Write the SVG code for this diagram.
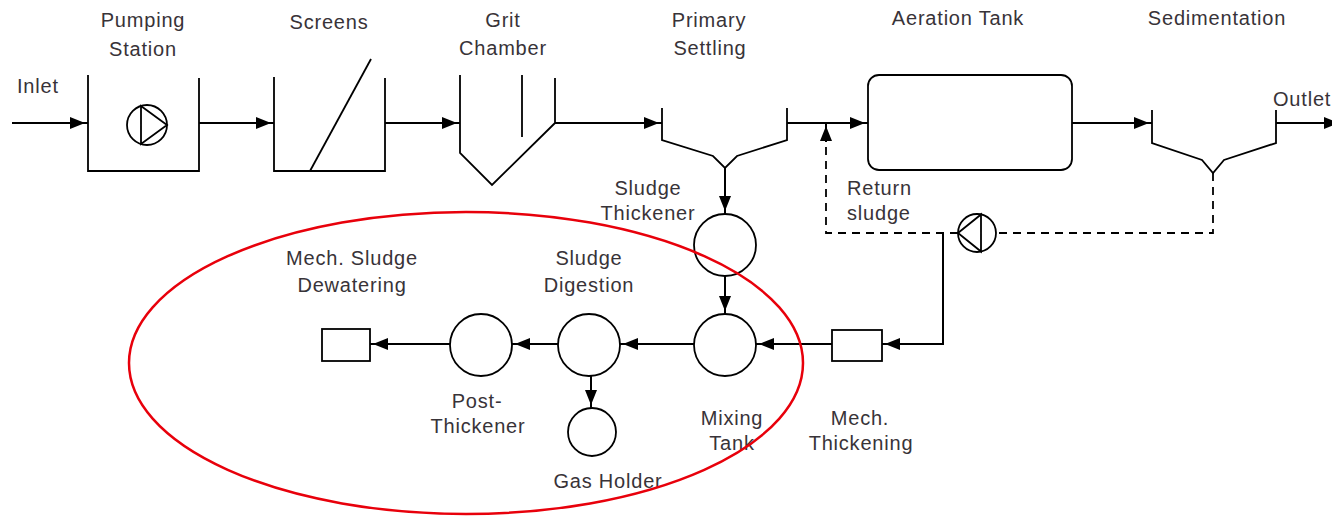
<svg xmlns="http://www.w3.org/2000/svg" width="1332" height="518" viewBox="0 0 1332 518">
<defs>
<style>
.ln{fill:none;stroke:#000;stroke-width:2}
.sh{fill:none;stroke:#000;stroke-width:1.8}
.ds{fill:none;stroke:#000;stroke-width:1.8;stroke-dasharray:8 6}
.ar{marker-end:url(#ah)}
text{font-family:"Liberation Sans",Arial,sans-serif;font-size:20px;fill:#383338;letter-spacing:0.8px}
.c{text-anchor:middle}
</style>
<marker id="ah" markerUnits="userSpaceOnUse" viewBox="0 -7 20 14" refX="18" refY="0" markerWidth="20" markerHeight="14" orient="auto">
<path d="M0,-6 L15,0 L0,6 z" fill="#000"/>
</marker>
</defs>
<rect width="1332" height="518" fill="#fff"/>

<g id="pumping-station">
<polyline class="sh" points="88,75 88,171 199,171 199,78"/>
<circle class="sh" cx="147" cy="125" r="20" stroke-width="1.5"/>
<polygon class="sh" stroke-width="1.5" points="141,106 167,125 141,144"/>
<text class="c" x="143" y="27">Pumping</text>
<text class="c" x="143" y="56">Station</text>
</g>

<g id="screens">
<polyline class="sh" points="274,77 274,171 385,171 385,78"/>
<line class="sh" x1="310" y1="171" x2="371" y2="59"/>
<text class="c" x="329" y="29">Screens</text>
</g>

<g id="grit-chamber">
<polyline class="sh" points="460,75 460,153 492,185 555,123 555,78"/>
<line class="sh" x1="522" y1="75" x2="522" y2="137"/>
<text class="c" x="503" y="27">Grit</text>
<text class="c" x="503" y="55">Chamber</text>
</g>

<g id="primary-settling">
<polyline class="sh" points="662,108 662,140 713,156 725,168 737,156 787,140 787,108"/>
<text class="c" x="709" y="27">Primary</text>
<text class="c" x="710" y="55">Settling</text>
</g>

<g id="aeration-tank">
<rect class="sh" x="868" y="75" width="204" height="95" rx="11"/>
<text class="c" x="958" y="25">Aeration Tank</text>
</g>

<g id="sedimentation">
<polyline class="sh" points="1152,110 1152,143 1202,160 1213,173 1224,160 1276,143 1276,110"/>
<text class="c" x="1217" y="25">Sedimentation</text>
</g>

<g id="inlet"><text x="17" y="93">Inlet</text></g>
<g id="outlet"><text x="1273" y="106">Outlet</text></g>

<g id="sludge-thickener">
<circle class="sh" cx="725" cy="245" r="31" stroke-width="1.5"/>
<text class="c" x="648" y="195">Sludge</text>
<text class="c" x="648" y="220">Thickener</text>
</g>

<g id="return-sludge">
<circle class="sh" cx="977" cy="233" r="19" stroke-width="1.5"/>
<polygon class="sh" stroke-width="1.5" points="958,233 981,214.5 981,251.5"/>
<text x="847" y="195">Return</text>
<text x="847" y="220">sludge</text>
</g>

<g id="mixing-tank">
<circle class="sh" cx="725" cy="345" r="31" stroke-width="1.5"/>
<text class="c" x="732" y="425">Mixing</text>
<text class="c" x="732" y="450">Tank</text>
</g>

<g id="mech-thickening">
<rect class="sh" x="832" y="330" width="50" height="31"/>
<text class="c" x="860" y="425">Mech.</text>
<text class="c" x="861" y="450">Thickening</text>
</g>

<g id="sludge-digestion">
<circle class="sh" cx="589" cy="345" r="31" stroke-width="1.5"/>
<text class="c" x="589" y="265">Sludge</text>
<text class="c" x="589" y="292">Digestion</text>
</g>

<g id="gas-holder">
<circle class="sh" cx="592" cy="432" r="24" stroke-width="1.5"/>
<text class="c" x="608" y="488">Gas Holder</text>
</g>

<g id="post-thickener">
<circle class="sh" cx="481" cy="345" r="31" stroke-width="1.5"/>
<text class="c" x="477" y="408">Post-</text>
<text class="c" x="478" y="433">Thickener</text>
</g>

<g id="mech-sludge-dewatering">
<rect class="sh" x="322" y="329" width="48" height="32"/>
<text class="c" x="352" y="265">Mech. Sludge</text>
<text class="c" x="352" y="292">Dewatering</text>
</g>

<g id="connectors">
<line class="ln ar" x1="12" y1="123" x2="88" y2="123"/>
<line class="ln ar" x1="199" y1="123" x2="274" y2="123"/>
<line class="ln ar" x1="385" y1="123" x2="460" y2="123"/>
<line class="ln ar" x1="555" y1="123" x2="662" y2="123"/>
<line class="ln ar" x1="787" y1="123" x2="868" y2="123"/>
<line class="ln ar" x1="1072" y1="123" x2="1152" y2="123"/>
<line class="ln ar" x1="1276" y1="123" x2="1342" y2="123"/>
<line class="ln ar" x1="725" y1="168" x2="725" y2="214"/>
<line class="ln ar" x1="725" y1="276" x2="725" y2="314"/>
<polyline class="ln ar" points="943,233 943,344 882,344"/>
<line class="ln ar" x1="832" y1="344" x2="756" y2="344"/>
<line class="ln ar" x1="694" y1="344" x2="620" y2="344"/>
<line class="ln ar" x1="558" y1="344" x2="512" y2="344"/>
<line class="ln ar" x1="450" y1="344" x2="370" y2="344"/>
<line class="ln ar" x1="591" y1="376" x2="591" y2="408"/>
<polyline class="ds" points="1213,173 1213,233 997,233"/>
<polyline class="ds" points="958,233 826,233 826,140"/>
<line class="ln ar" x1="826" y1="142" x2="826" y2="123"/>
</g>

<g id="highlight">
<ellipse cx="466" cy="363" rx="337" ry="151" fill="none" stroke="#e8000b" stroke-width="2.5"/>
</g>
</svg>
